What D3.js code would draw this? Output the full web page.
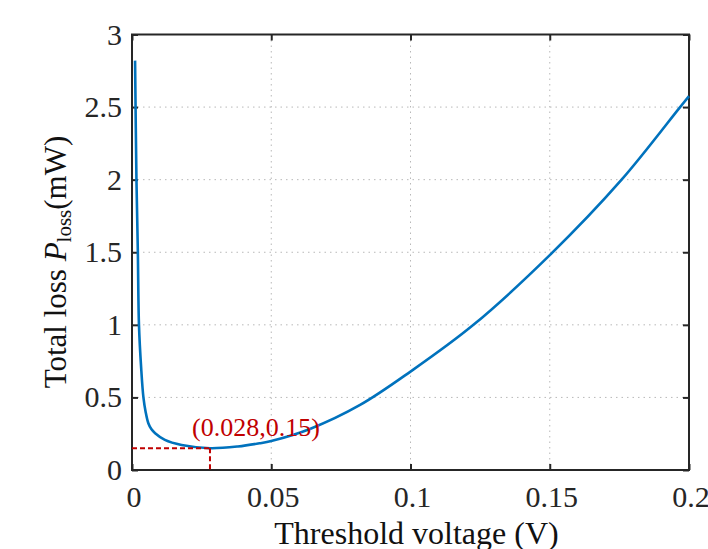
<!DOCTYPE html>
<html><head><meta charset="utf-8">
<script src="https://cdn.jsdelivr.net/npm/d3@7/dist/d3.min.js"></script>
<style>body{margin:0;background:#fff}svg{display:block}text{font-family:"Liberation Serif","Times New Roman",serif}</style>
</head><body><svg id="c" width="708" height="549"></svg>
<script>
const voltage = [0.0011,0.0016,0.0021,0.0025,0.0033,0.0041,0.0049,0.0059,0.007,0.0083,0.0118,0.0178,0.028,0.038,0.0458,0.05,0.0639,0.0819,0.1,0.1226,0.15,0.1758,0.1968,0.2];
const loss    = [2.82,2.0,1.5,1.0,0.7,0.5,0.4,0.32,0.28,0.253,0.207,0.172,0.15,0.162,0.184,0.2,0.283,0.448,0.678,1.0,1.48,2.0,2.5,2.575];
const xTicks = [0,0.05,0.1,0.15,0.2];
const xTickLabels = ["0","0.05","0.1","0.15","0.2"];
const yTicks = [0,0.5,1,1.5,2,2.5,3];
const yTickLabels = ["0","0.5","1","1.5","2","2.5","3"];
const minPoint = {v:0.028, p:0.15, label:"(0.028,0.15)"};

const svg = d3.select("#c");
const L=132,R=689,T=34.5,B=470;
const x = d3.scaleLinear().domain([0,0.2]).range([L,R]);
const y = d3.scaleLinear().domain([0,3]).range([B,T]);
const ink="#262626";

// grid
const g = svg.append("g");
g.selectAll(".gx").data(xTicks.slice(1,-1)).enter().append("line")
 .attr("x1",d=>x(d)).attr("x2",d=>x(d)).attr("y1",T).attr("y2",B)
 .attr("stroke","#b8b8b8").attr("stroke-width",1).attr("stroke-dasharray","1.5,4");
g.selectAll(".gy").data(yTicks.slice(1,-1)).enter().append("line")
 .attr("y1",d=>y(d)).attr("y2",d=>y(d)).attr("x1",L).attr("x2",R)
 .attr("stroke","#b8b8b8").attr("stroke-width",1).attr("stroke-dasharray","1.5,4");

// axes with inward ticks
const axB = d3.axisBottom(x).tickValues(xTicks).tickSize(-6).tickFormat("");
const axT = d3.axisTop(x).tickValues(xTicks).tickSize(-6).tickFormat("");
const axL = d3.axisLeft(y).tickValues(yTicks).tickSize(-6).tickFormat("");
const axR = d3.axisRight(y).tickValues(yTicks).tickSize(-6).tickFormat("");
[[axB,`translate(0,${B})`],[axT,`translate(0,${T})`],[axL,`translate(${L},0)`],[axR,`translate(${R},0)`]].forEach(([a,t])=>{
  const s=svg.append("g").attr("transform",t).call(a);
  s.select(".domain").remove();
  s.selectAll("line").attr("stroke",ink).attr("stroke-width",2);
});
svg.append("rect").attr("x",L).attr("y",T).attr("width",R-L).attr("height",B-T)
 .attr("fill","none").attr("stroke",ink).attr("stroke-width",2);

// tick labels
svg.selectAll(".xl").data(xTicks).enter().append("text")
 .attr("x",d=>x(d)+2).attr("y",B+37).attr("text-anchor","middle")
 .attr("font-size",30).attr("fill",ink).text((d,i)=>xTickLabels[i]);
svg.selectAll(".yl").data(yTicks).enter().append("text")
 .attr("x",L-10).attr("y",d=>y(d)+10).attr("text-anchor","end")
 .attr("font-size",30).attr("fill",ink).text((d,i)=>yTickLabels[i]);

// axis titles
svg.append("text").attr("x",(L+R)/2+6).attr("y",544).attr("text-anchor","middle")
 .attr("font-size",32).attr("fill","#111").text("Threshold voltage (V)");
const yt = svg.append("text").attr("transform","translate(66,262) rotate(-90)")
 .attr("text-anchor","middle").attr("font-size",31).attr("fill","#111");
yt.append("tspan").text("Total loss ");
yt.append("tspan").attr("font-style","italic").text("P");
yt.append("tspan").attr("font-size",21).attr("dy",5).text("loss");
yt.append("tspan").attr("dy",-5).text("(mW)");

// curve
const pts = voltage.map((v,i)=>[v,loss[i]]);
svg.append("path").datum(pts)
 .attr("d",d3.line().x(d=>x(d[0])).y(d=>y(d[1])).curve(d3.curveCatmullRom.alpha(0.5)))
 .attr("fill","none").attr("stroke","#0072BD").attr("stroke-width",2.6);

// min annotation
svg.append("line").attr("x1",L).attr("x2",x(minPoint.v)).attr("y1",y(minPoint.p)).attr("y2",y(minPoint.p))
 .attr("stroke","#c00000").attr("stroke-width",2).attr("stroke-dasharray","5,3");
svg.append("line").attr("x1",x(minPoint.v)).attr("x2",x(minPoint.v)).attr("y1",y(minPoint.p)).attr("y2",B)
 .attr("stroke","#c00000").attr("stroke-width",2).attr("stroke-dasharray","5,3");
svg.append("text").attr("x",x(minPoint.v)-18).attr("y",436).attr("font-size",26)
 .attr("fill","#c00000").text(minPoint.label);
</script></body></html>
